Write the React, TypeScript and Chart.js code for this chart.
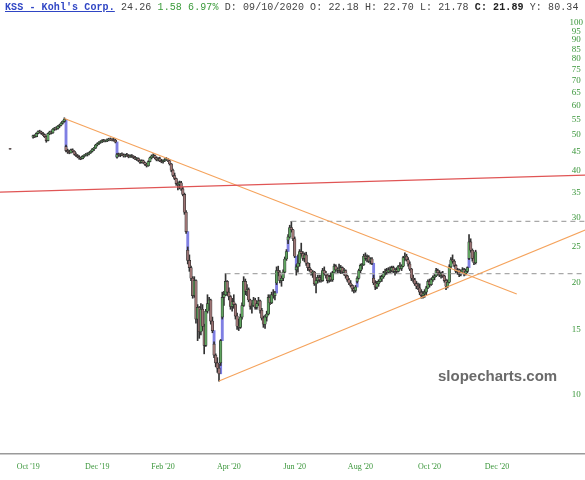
import React, { useEffect, useRef } from "react";
import { Chart, registerables } from "chart.js";
Chart.register(...registerables);

type OHLC = [number, number, number, number]; // open, high, low, close

// ---- daily candles, one array per month (open, high, low, close) ----
const firstPrintDate = "2019-10-02";
const firstPrint: OHLC = [45.95, 46.0, 45.8, 45.8];

const oct19: OHLC[] = [
  [49.3, 50.0, 49.0, 49.8], [49.8, 50.1, 49.2, 49.5], [49.5, 50.7, 49.4, 50.5],
  [50.5, 51.3, 50.3, 51.1], [51.1, 51.5, 50.6, 50.9], [50.9, 51.2, 50.2, 50.5], [50.5, 50.8, 49.8, 50.1],
  [50.1, 50.3, 49.2, 49.5],
];
const nov19: OHLC[] = [
  [49.5, 49.7, 47.8, 48.3], [48.3, 50.6, 48.2, 50.4], [50.4, 51.2, 50.1, 50.9], [50.9, 51.3, 50.3, 50.7],
  [50.7, 52.0, 50.5, 51.8], [51.8, 52.4, 51.4, 52.2], [52.2, 52.6, 51.6, 52.0], [52.0, 53.0, 51.8, 52.8],
  [52.8, 53.4, 52.3, 53.1], [53.1, 54.0, 52.9, 53.8], [53.8, 54.6, 53.5, 54.4], [54.4, 55.6, 54.1, 55.1],
  [46.5, 47.0, 45.0, 45.4], [45.4, 45.8, 44.6, 45.1], [45.1, 45.5, 44.5, 44.8], [44.8, 45.8, 44.7, 45.6],
  [45.6, 45.9, 44.9, 45.2], [45.2, 45.4, 44.2, 44.4], [44.4, 44.8, 43.8, 44.0], [44.0, 44.3, 43.4, 43.7],
];
const dec19: OHLC[] = [
  [43.7, 44.0, 43.0, 43.4], [43.4, 43.6, 42.9, 43.2], [43.2, 44.0, 43.1, 43.8], [43.8, 44.3, 43.5, 44.1],
  [44.1, 44.6, 43.9, 44.3], [44.3, 44.8, 43.9, 44.5], [44.5, 45.0, 44.2, 44.8], [44.8, 45.4, 44.6, 45.2],
  [45.2, 46.0, 45.0, 45.8], [45.8, 46.3, 45.4, 46.1], [46.1, 47.2, 46.0, 47.0], [47.0, 47.6, 46.7, 47.4],
  [47.4, 48.0, 47.1, 47.8], [47.8, 48.3, 47.5, 48.0], [48.0, 48.6, 47.7, 48.3], [48.3, 48.7, 47.9, 48.1],
  [48.1, 48.5, 47.9, 48.3], [48.3, 48.8, 48.0, 48.5], [48.5, 49.0, 48.2, 48.7], [48.7, 49.1, 48.3, 48.6],
  [48.6, 48.9, 48.2, 48.5],
];
const jan20: OHLC[] = [
  [48.5, 49.0, 48.1, 48.4], [48.4, 48.7, 47.6, 47.9], [43.6, 44.6, 43.3, 44.3], [44.3, 44.7, 43.8, 44.1],
  [44.1, 44.6, 43.7, 44.4], [44.4, 44.8, 44.0, 44.2], [44.2, 44.5, 43.6, 43.9], [43.9, 44.4, 43.6, 44.2],
  [44.2, 44.6, 43.8, 44.0], [44.0, 44.3, 43.4, 43.7], [43.7, 44.2, 43.5, 44.0], [44.0, 44.3, 43.5, 43.8],
  [43.8, 44.0, 43.2, 43.5], [43.5, 43.8, 42.9, 43.1], [43.1, 43.5, 42.7, 43.2], [43.2, 43.4, 42.4, 42.7],
  [42.7, 42.9, 41.9, 42.2], [42.2, 42.9, 42.0, 42.6], [42.6, 42.8, 41.9, 42.1], [42.1, 42.3, 41.4, 41.7],
  [41.7, 42.0, 41.0, 41.3],
];
const feb20: OHLC[] = [
  [41.3, 42.6, 41.2, 42.4], [42.4, 43.6, 42.3, 43.4], [43.4, 44.2, 43.1, 43.9], [43.9, 44.5, 43.5, 44.0],
  [44.0, 44.2, 43.1, 43.4], [43.4, 43.7, 42.6, 42.9], [42.9, 43.5, 42.6, 43.2], [43.2, 43.6, 42.4, 42.6],
  [42.6, 43.0, 42.1, 42.4], [42.4, 42.9, 42.0, 42.7], [42.7, 43.2, 42.4, 42.9], [42.9, 43.5, 42.7, 43.1],
  [43.1, 43.3, 42.4, 42.6], [42.6, 42.7, 41.5, 41.8], [41.8, 41.9, 39.8, 40.2], [40.2, 40.5, 38.6, 38.9],
  [38.9, 39.5, 37.9, 38.2], [38.2, 38.3, 36.6, 37.0], [37.0, 37.4, 35.6, 36.8],
];
const mar20: OHLC[] = [
  [36.8, 37.6, 35.8, 37.2], [37.2, 37.5, 35.5, 35.8], [35.8, 36.2, 34.3, 34.6], [34.6, 34.9, 30.6, 31.0],
  [31.0, 31.3, 27.2, 27.5], [24.5, 25.0, 22.5, 23.0], [23.0, 23.8, 21.5, 22.0], [22.0, 22.2, 20.3, 20.6],
  [20.6, 20.8, 18.2, 18.5], [18.5, 20.8, 18.3, 20.3], [20.3, 20.4, 15.6, 16.0], [16.0, 17.5, 14.0, 17.2],
  [17.2, 17.3, 14.2, 14.8], [14.8, 17.6, 14.5, 17.0], [17.0, 17.5, 14.9, 15.3], [15.3, 15.5, 12.9, 13.6],
  [13.6, 17.0, 13.5, 16.8], [16.8, 18.6, 16.6, 17.6], [17.6, 18.3, 16.9, 18.0], [18.0, 18.1, 15.5, 15.8],
  [15.8, 16.2, 14.7, 14.9], [13.7, 13.9, 12.6, 12.8],
];
const apr20: OHLC[] = [
  [12.8, 12.9, 11.9, 12.2], [12.2, 12.6, 11.5, 11.8], [11.8, 12.1, 10.9, 11.4], [12.2, 14.1, 12.0, 14.0],
  [16.2, 18.9, 16.0, 18.3], [18.3, 19.0, 17.4, 18.6], [18.6, 21.2, 18.5, 20.2], [20.2, 20.3, 18.5, 18.9],
  [18.9, 19.4, 18.0, 18.4], [18.4, 18.5, 17.0, 17.3], [17.3, 18.2, 16.8, 17.8], [17.8, 18.6, 17.1, 17.5],
  [17.5, 17.6, 16.0, 16.3], [16.3, 16.6, 15.0, 15.3], [15.3, 16.0, 14.9, 15.2], [15.2, 16.5, 15.1, 16.2],
  [16.2, 17.7, 16.0, 17.4], [17.4, 20.8, 17.3, 20.2], [20.2, 20.5, 18.6, 19.0], [19.0, 19.8, 18.5, 19.2],
  [19.2, 19.4, 17.8, 18.0],
];
const may20: OHLC[] = [
  [18.0, 18.1, 17.0, 17.3], [17.3, 17.6, 16.6, 17.4], [17.4, 18.3, 17.3, 18.0], [18.0, 18.2, 17.0, 17.2],
  [17.2, 17.9, 17.0, 17.6], [17.6, 18.3, 17.4, 17.9], [17.9, 18.0, 16.6, 16.9], [16.9, 17.1, 15.9, 16.1],
  [16.1, 16.3, 15.2, 15.5], [15.5, 16.4, 15.1, 16.2], [16.2, 16.8, 15.8, 16.5], [16.5, 18.6, 16.4, 18.3],
  [18.3, 18.6, 17.5, 17.7], [17.7, 18.9, 17.6, 18.6], [18.6, 19.2, 18.2, 18.5], [18.5, 19.0, 18.0, 18.8],
  [20.0, 22.1, 19.8, 21.6], [21.6, 22.2, 20.9, 21.4], [21.4, 21.6, 20.0, 20.3], [20.3, 20.9, 19.6, 20.6],
];
const jun20: OHLC[] = [
  [20.6, 21.7, 20.3, 21.4], [21.4, 23.5, 21.3, 23.2], [23.2, 24.6, 23.0, 24.3], [26.1, 27.0, 25.5, 26.6],
  [26.6, 28.6, 26.4, 28.2], [28.2, 29.3, 27.4, 27.8], [27.8, 27.9, 26.0, 26.3], [26.3, 26.6, 23.4, 23.6],
  [21.7, 22.4, 21.0, 22.1], [22.1, 23.8, 21.4, 22.6], [22.6, 24.6, 22.2, 24.3], [24.3, 25.6, 23.6, 24.0],
  [24.0, 24.3, 23.0, 23.3], [23.3, 24.1, 22.8, 23.8], [23.8, 24.2, 22.3, 22.6], [22.6, 22.7, 21.6, 22.0],
  [22.0, 22.6, 21.5, 21.7], [21.7, 21.8, 21.0, 21.2], [21.2, 21.6, 20.7, 21.4], [21.4, 21.5, 19.7, 19.9],
  [19.9, 20.5, 18.8, 20.3], [20.3, 21.0, 20.0, 20.7],
];
const jul20: OHLC[] = [
  [20.7, 21.0, 20.1, 20.4], [20.4, 21.0, 20.1, 20.3], [20.3, 21.9, 20.2, 21.6], [21.6, 22.1, 21.0, 21.2],
  [21.2, 21.5, 20.6, 21.0], [21.0, 21.1, 20.0, 20.3], [20.3, 21.0, 20.1, 20.8], [20.8, 21.3, 20.2, 20.4],
  [20.4, 21.5, 20.2, 21.3], [21.3, 22.5, 21.2, 22.2], [22.2, 22.4, 21.5, 21.7], [21.7, 22.0, 21.3, 21.8],
  [21.8, 22.5, 21.3, 21.6], [21.6, 22.3, 21.2, 22.0], [22.0, 22.1, 21.2, 21.4], [21.4, 21.9, 21.0, 21.6],
  [21.6, 21.7, 20.6, 20.9], [20.9, 21.0, 20.2, 20.4], [20.4, 20.6, 19.8, 20.0], [20.0, 20.3, 19.5, 19.7],
  [19.7, 19.8, 19.0, 19.3], [19.3, 19.5, 18.8, 19.1],
];
const aug20: OHLC[] = [
  [19.1, 19.7, 18.9, 19.5], [20.2, 20.8, 20.0, 20.6], [20.6, 21.8, 20.5, 21.6], [21.6, 22.5, 21.3, 22.3],
  [22.3, 22.6, 21.8, 22.4], [22.4, 23.9, 22.3, 23.6], [23.6, 24.1, 23.0, 23.3], [23.3, 23.8, 22.8, 23.5],
  [23.5, 23.7, 22.7, 22.9], [22.9, 23.4, 22.5, 23.2], [23.2, 23.4, 22.4, 22.6], [20.6, 21.0, 19.8, 20.0],
  [20.0, 20.3, 19.2, 19.5], [19.5, 20.2, 19.3, 19.9], [19.9, 20.4, 19.6, 20.2], [20.2, 20.9, 20.1, 20.5],
  [20.5, 21.0, 20.2, 20.8], [20.8, 21.5, 20.6, 21.3], [21.3, 21.8, 21.0, 21.5], [21.5, 21.9, 21.1, 21.4],
  [21.4, 22.0, 21.2, 21.7],
];
const sep20: OHLC[] = [
  [21.7, 22.1, 21.3, 21.6], [21.6, 22.2, 21.4, 22.0], [22.0, 22.2, 21.3, 21.5], [21.5, 21.9, 21.0, 21.7],
  [21.7, 22.0, 21.2, 21.5], [21.5, 22.3, 21.4, 22.18], [22.18, 22.7, 21.78, 21.89], [21.89, 22.4, 21.6, 22.2],
  [22.2, 23.6, 22.1, 23.4], [23.4, 24.1, 23.0, 23.6], [23.6, 23.9, 22.9, 23.1], [23.1, 23.4, 22.2, 22.5],
  [22.5, 22.8, 21.6, 21.8], [21.8, 21.9, 20.3, 20.6], [20.6, 21.0, 20.1, 20.4], [20.4, 20.6, 19.7, 19.9],
  [19.9, 20.2, 19.3, 19.6], [19.6, 20.0, 19.2, 19.4], [19.4, 19.9, 18.6, 18.9], [18.9, 19.2, 18.2, 18.5],
  [18.5, 19.0, 18.2, 18.7],
];
const oct20: OHLC[] = [
  [18.7, 19.2, 18.3, 18.9], [18.9, 19.6, 18.6, 19.4], [19.4, 20.4, 19.3, 20.2], [20.2, 20.5, 19.5, 19.8],
  [19.8, 20.6, 19.7, 20.4], [20.4, 20.9, 20.2, 20.7], [20.7, 21.1, 20.4, 20.9], [20.9, 21.9, 20.8, 21.6],
  [21.6, 21.8, 21.0, 21.3], [21.3, 21.6, 20.8, 21.0], [21.0, 21.4, 20.6, 21.2], [21.2, 21.5, 20.7, 20.9],
  [20.9, 21.0, 20.1, 20.3], [20.3, 20.5, 19.2, 19.6], [19.6, 20.4, 19.4, 20.1], [20.1, 22.4, 20.0, 22.1],
  [22.1, 23.4, 22.0, 23.1], [23.1, 23.8, 22.6, 22.9], [22.9, 23.1, 22.1, 22.3], [22.3, 22.4, 21.3, 21.5],
  [21.5, 21.9, 21.1, 21.7], [21.7, 21.8, 20.8, 21.1],
];
const nov20: OHLC[] = [
  [21.1, 21.7, 20.9, 21.4], [21.4, 22.0, 21.2, 21.7], [21.7, 21.9, 20.9, 21.2], [21.2, 21.8, 21.0, 21.5],
  [21.5, 22.1, 21.3, 22.0], [23.3, 27.0, 23.1, 25.8], [25.8, 26.3, 24.2, 24.5], [24.5, 24.7, 22.9, 23.3],
  [23.3, 23.6, 22.4, 22.68], [22.68, 24.5, 22.5, 24.26],
];

const months: OHLC[][] = [oct19, nov19, dec19, jan20, feb20, mar20, apr20, may20, jun20, jul20, aug20, sep20, oct20, nov20];
const monthStarts = [
  "2019-10-22", "2019-11-01", "2019-12-02", "2020-01-02", "2020-02-03", "2020-03-02", "2020-04-01",
  "2020-05-01", "2020-06-01", "2020-07-01", "2020-08-03", "2020-09-01", "2020-10-01", "2020-11-02",
];
const holidays = [
  "2019-11-28", "2019-12-25", "2020-01-01", "2020-01-20", "2020-02-17", "2020-04-10",
  "2020-05-25", "2020-07-03", "2020-09-07", "2020-11-26", "2020-12-25", "2021-01-01",
  "2021-01-18", "2021-02-15",
];

// ---- axis ticks ----
const tickDates = ["2019-10-17", "2019-12-17", "2020-02-14", "2020-04-14", "2020-06-10", "2020-08-06", "2020-10-06", "2020-12-03"];
const tickLabels = ["Oct '19", "Dec '19", "Feb '20", "Apr '20", "Jun '20", "Aug '20", "Oct '20", "Dec '20"];
const priceTicks = [10, 15, 20, 25, 30, 35, 40, 45, 50, 55, 60, 65, 70, 75, 80, 85, 90, 95, 100];

// ---- drawn trend lines (date, price) ----
const redLine: [string, number][] = [["2019-09-23", 35.1], ["2021-02-23", 39.0]];
const resistanceLine: [string, number][] = [["2019-11-18", 55.4], ["2020-12-21", 18.68]];
const supportLine: [string, number][] = [["2020-04-03", 10.9], ["2021-02-23", 27.8]];
const upperLevel: [string, number][] = [["2020-06-08", 29.3], ["2021-02-23", 29.3]];
const lowerLevel: [string, number][] = [["2020-04-09", 21.2], ["2021-02-23", 21.2]];

// trading-day index (session count) relative to 2019-10-01
const ORIGIN = Date.parse("2019-10-01T00:00:00Z");
const DAY = 86400000;
const iso = (t: number) => new Date(t).toISOString().slice(0, 10);
const isTrading = (t: number) => {
  const d = new Date(t).getUTCDay();
  return d !== 0 && d !== 6 && !holidays.includes(iso(t));
};
function tradingIndex(s: string) {
  const target = Date.parse(s + "T00:00:00Z");
  let idx = 0;
  if (target >= ORIGIN) {
    for (let t = ORIGIN; t < target; t += DAY) if (isTrading(t)) idx++;
    return idx;
  }
  for (let t = ORIGIN - DAY; t >= target; t -= DAY) if (isTrading(t)) idx--;
  return idx;
}

function buildCandles() {
  const out: { x: number; o: number; h: number; l: number; c: number }[] = [];
  months.forEach((m, i) => {
    let t = Date.parse(monthStarts[i] + "T00:00:00Z");
    for (const k of m) {
      while (!isTrading(t)) t += DAY;
      out.push({ x: tradingIndex(iso(t)), o: k[0], h: k[1], l: k[2], c: k[3] });
      t += DAY;
    }
  });
  return out;
}

const UP = "#5fa35f";
const DOWN = "#9c7474";
const GAP = "#7f7fe3";
const GREEN_TXT = "#3a963a";

export default function App() {
  const ref = useRef<HTMLCanvasElement>(null);
  useEffect(() => {
    const candles = buildCandles();
    const first = { x: tradingIndex(firstPrintDate), o: firstPrint[0], h: firstPrint[1], l: firstPrint[2], c: firstPrint[3] };
    const all = [first, ...candles];
    const gaps: { x: number; y: [number, number] }[] = [];
    for (let i = 1; i < candles.length; i++) {
      const p = candles[i - 1].c;
      if (Math.abs(candles[i].o - p) > 0.05) gaps.push({ x: candles[i].x, y: [p, candles[i].o] });
    }
    const tickPos = tickDates.map(tradingIndex);
    const line = (pts: [string, number][], color: string, dash: number[] = [], w = 1.1) => ({
      type: "line" as const,
      data: pts.map(([d, v]) => ({ x: tradingIndex(d), y: v })),
      borderColor: color,
      borderWidth: w,
      borderDash: dash,
      pointRadius: 0,
      fill: false,
      order: 0,
    });
    const chart = new Chart(ref.current!, {
      type: "bar",
      data: {
        datasets: [
          line(redLine, "#e05555", [], 1.2),
          line(resistanceLine, "#f5a35c"),
          line(supportLine, "#f5a35c"),
          line(upperLevel, "#a8a8a8", [5, 4], 1.2),
          line(lowerLevel, "#a8a8a8", [5, 4], 1.2),
          {
            type: "bar",
            data: all.map((k) => ({ x: k.x, y: [k.o, k.c] })),
            backgroundColor: all.map((k) => (k.c >= k.o ? UP : DOWN)),
            borderColor: "#2a2a2a",
            borderWidth: 0.6,
            borderSkipped: false,
            barThickness: 2.6,
            stack: "c",
            order: 1,
          } as any,
          {
            type: "bar",
            data: all.map((k) => ({ x: k.x, y: [k.l, k.h] })),
            backgroundColor: "#333333",
            borderWidth: 0,
            barThickness: 1,
            stack: "c",
            order: 2,
          } as any,
          {
            type: "bar",
            data: gaps,
            backgroundColor: GAP,
            borderWidth: 0,
            barThickness: 2.2,
            stack: "c",
            order: 3,
          } as any,
        ],
      },
      options: {
        responsive: false,
        animation: false,
        events: [],
        layout: { padding: { top: 20, left: 0, right: 0, bottom: 0 } },
        plugins: { legend: { display: false }, tooltip: { enabled: false } },
        scales: {
          x: {
            type: "linear",
            min: -5.13,
            max: 350.5,
            offset: false,
            stacked: true,
            grid: { display: false, drawTicks: false },
            border: { display: true, color: "#9a9a9a", width: 1.5 },
            afterBuildTicks: (s: any) => {
              s.ticks = tickPos.map((v) => ({ value: v }));
            },
            afterFit: (s: any) => {
              s.height = 26;
            },
            ticks: {
              autoSkip: false,
              maxRotation: 0,
              minRotation: 0,
              padding: 8,
              color: GREEN_TXT,
              font: { family: "'Liberation Serif', 'Times New Roman', serif", size: 8 },
              callback: (v: any) => {
                const i = tickPos.indexOf(Number(v));
                return i >= 0 ? tickLabels[i] : "";
              },
            },
          },
          y: {
            type: "logarithmic",
            position: "right",
            min: 6.94,
            max: 101.87,
            stacked: false,
            grid: { display: false, drawTicks: false },
            border: { display: false },
            afterBuildTicks: (s: any) => {
              s.ticks = priceTicks.map((v) => ({ value: v }));
            },
            afterFit: (s: any) => {
              s.width = 0;
            },
            ticks: {
              mirror: true,
              crossAlign: "center",
              padding: -2,
              autoSkip: false,
              color: GREEN_TXT,
              font: { family: "'Liberation Serif', 'Times New Roman', serif", size: 9 },
              callback: (v: any) => String(v),
            },
          },
        },
      } as any,
    });
    return () => chart.destroy();
  }, []);

  return (
    <div style={{ position: "absolute", left: 0, top: 0, width: 585, height: 480, background: "#fff", overflow: "hidden" }}>
      <canvas ref={ref} width={585} height={480} style={{ position: "absolute", left: 0, top: 0, width: 585, height: 480 }} />
      <div
        style={{
          position: "absolute",
          left: 5,
          top: 2,
          whiteSpace: "pre",
          fontFamily: "'Liberation Mono', monospace",
          fontSize: 10,
          letterSpacing: "0.1px",
          lineHeight: "12px",
          color: "#444",
        }}
      >
        <span style={{ color: "#2f45c4", textDecoration: "underline", fontWeight: "bold" }}>KSS - Kohl's Corp.</span>
        {" 24.26 "}
        <span style={{ color: "#3a9a3a" }}>1.58 6.97%</span>
        {" D: 09/10/2020 O: 22.18 H: 22.70 L: 21.78 "}
        <b style={{ color: "#222" }}>C: 21.89</b>
        {" Y: 80.34"}
      </div>
      <div
        style={{
          position: "absolute",
          left: 438,
          top: 367,
          fontFamily: "'Liberation Sans', Arial, sans-serif",
          fontWeight: "bold",
          fontSize: 15,
          lineHeight: "18px",
          color: "#6a6a6a",
          whiteSpace: "pre",
        }}
      >
        slopecharts.com
      </div>
    </div>
  );
}
